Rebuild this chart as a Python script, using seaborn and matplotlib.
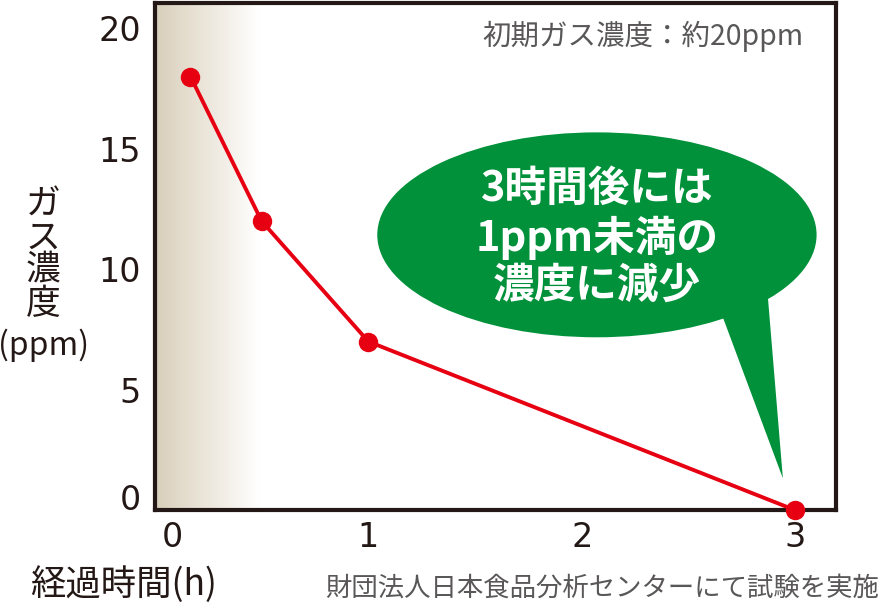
import numpy as np
import pandas as pd
import matplotlib
matplotlib.use("Agg")
import matplotlib.pyplot as plt
import seaborn as sns
from matplotlib.patches import Ellipse, Polygon
from matplotlib.colors import LinearSegmentedColormap
from matplotlib.transforms import ScaledTranslation

# elapsed time (h) and gas concentration (ppm)
hours = [1 / 6, 0.5, 1, 3]
ppm = [18, 12, 7, 0]
x_ticks = [0, 1, 2, 3]
y_ticks = [0, 5, 10, 15, 20]

sns.set_style("white")
plt.rcParams['font.family'] = ['Noto Sans CJK JP', 'DejaVu Sans']

df = pd.DataFrame({'hours': hours, 'ppm': ppm})

fig = plt.figure(figsize=(8.8, 6.06), dpi=100)
ax = fig.add_axes([0.176, 0.158, 0.774, 0.837])

# tan fade at the left edge
cmap = LinearSegmentedColormap.from_list(
    'fade', [(0, '#d8cebb'), (0.3, '#e6dfd1'), (0.6, '#f3efe8'), (0.88, '#ffffff'), (1, '#ffffff')])
ax.imshow(np.linspace(0, 1, 512)[None, :], cmap=cmap, aspect='auto',
          extent=[0, 0.55, 0, 21.05], zorder=0, interpolation='bilinear')

sns.lineplot(data=df, x='hours', y='ppm', ax=ax, color='#e60012', linewidth=2.8,
             marker='o', markersize=14, markeredgewidth=0, zorder=3, clip_on=False)

ax.set_xlim(0, 3.19)
ax.set_ylim(0, 21.05)
ax.set_xticks(x_ticks)
ax.set_yticks(y_ticks)
ax.set_xticklabels([str(v) for v in x_ticks], family='DejaVu Sans', fontsize=24, color='#231815')
ax.set_yticklabels([str(v) for v in y_ticks], family='DejaVu Sans', fontsize=24, color='#231815')
ax.tick_params(direction='in', length=9, width=2.2, color='#231815', pad=10)
ax.tick_params(axis='x', pad=8)
ax.set_xlabel('')
ax.set_ylabel('')
for s in ax.spines.values():
    s.set_linewidth(3)
    s.set_color('#231815')

# nudge the zero labels off the corner
lx = ax.get_xticklabels()[0]
lx.set_transform(lx.get_transform() + ScaledTranslation(0.17, 0, fig.dpi_scale_trans))
ly = ax.get_yticklabels()[0]
ly.set_transform(ly.get_transform() + ScaledTranslation(0, 0.13, fig.dpi_scale_trans))

# speech bubble
green = '#00913a'
ax.add_patch(Ellipse((0.649, 0.543), 0.645, 0.404, transform=ax.transAxes,
                     facecolor=green, edgecolor='none', zorder=4))
ax.add_patch(Polygon([(0.834, 0.38), (0.900, 0.42), (0.922, 0.063)], closed=True,
                     transform=ax.transAxes, facecolor=green, edgecolor='none', zorder=4))
ax.text(0.649, 0.538, '3時間後には\n1ppm未満の\n濃度に減少', transform=ax.transAxes,
        ha='center', va='center', color='white', fontsize=30, fontweight='bold',
        linespacing=1.15, zorder=5)

ax.text(0.952, 0.935, '初期ガス濃度：約20ppm', transform=ax.transAxes, ha='right',
        va='center', color='#595757', fontsize=20.5)

# axis captions
fig.text(0.049, 0.58, 'ガ\nス\n濃\n度', ha='center', va='center', fontsize=25,
         color='#231815', linespacing=0.93)
fig.text(0.05, 0.43, '(ppm)', ha='center', va='center', fontsize=23, color='#231815')
fig.text(0.034, 0.035, '経過時間(h)', ha='left', va='center', fontsize=25.5, color='#231815')
fig.text(0.999, 0.03, '財団法人日本食品分析センターにて試験を実施', ha='right', va='center',
         fontsize=19, color='#595757')

fig.savefig('out.png', dpi=100)
